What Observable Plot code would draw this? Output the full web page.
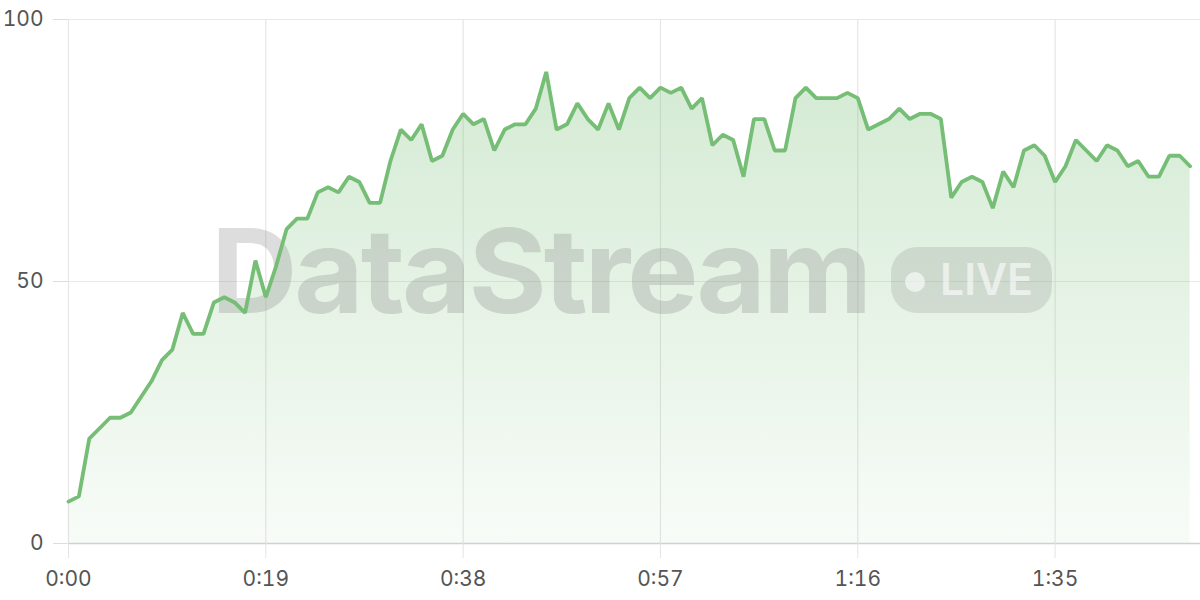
<!DOCTYPE html>
<html>
<head>
<meta charset="utf-8">
<script src="https://cdn.jsdelivr.net/npm/d3@7"></script>
<script src="https://cdn.jsdelivr.net/npm/@observablehq/plot@0.6"></script>
<style>
  html, body { margin: 0; padding: 0; background: #fff; }
  #chart { width: 1200px; height: 600px; }
</style>
</head>
<body>
<div id="chart"></div>
<script>
const seconds = [0,1,2,3,4,5,6,7,8,9,10,11,12,13,14,15,16,17,18,19,20,21,22,23,24,25,26,27,28,29,30,31,32,33,34,35,36,37,38,39,40,41,42,43,44,45,46,47,48,49,50,51,52,53,54,55,56,57,58,59,60,61,62,63,64,65,66,67,68,69,70,71,72,73,74,75,76,77,78,79,80,81,82,83,84,85,86,87,88,89,90,91,92,93,94,95,96,97,98,99,100,101,102,103,104,105,106,107,108];
const values = [8,9,20,22,24,24,25,28,31,35,37,44,40,40,46,47,46,44,54,47,53,60,62,62,67,68,67,70,69,65,65,73,79,77,80,73,74,79,82,80,81,75,79,80,80,83,90,79,80,84,81,79,84,79,85,87,85,87,86,87,83,85,76,78,77,70,81,81,75,75,85,87,85,85,85,86,85,79,80,81,83,81,82,82,81,66,69,70,69,64,71,68,75,76,74,69,72,77,75,73,76,75,72,73,70,70,74,74,72];
const xTicks = [0,19,38,57,76,95];
const yTicks = [0,50,100];
const brandName = "DataStream";
const badgeLabel = "LIVE";

const data = seconds.map((s, i) => ({s, v: values[i]}));
const fmt = d => `${Math.floor(d / 60)}:${String(d % 60).padStart(2, "0")}`;

const lineColor = "#76bd76";

function watermark(index, scales, values, dimensions) {
  const {width, height, marginLeft, marginRight, marginTop, marginBottom} = dimensions;
  const cx = (marginLeft + width - marginRight) / 2 - 2;
  const cy = (marginTop + height - marginBottom) / 2;
  const g = d3.create("svg:g").attr("pointer-events", "none").attr("text-anchor", "start");
  g.append("text")
    .attr("x", cx - 421).attr("y", cy + 32)
    .attr("text-anchor", "start")
    .attr("font-family", "Inter, 'Open Sans', sans-serif")
    .attr("font-weight", 700)
    .attr("font-size", 117)
    .attr("letter-spacing", -3)
    .attr("textLength", 658)
    .attr("lengthAdjust", "spacingAndGlyphs")
    .attr("fill", "#8f8f8f").attr("fill-opacity", 0.3)
    .text(brandName);
  g.append("rect")
    .attr("x", cx + 259).attr("y", cy - 34)
    .attr("width", 161).attr("height", 66)
    .attr("rx", 26)
    .attr("fill", "#8f8f8f").attr("fill-opacity", 0.24);
  g.append("circle")
    .attr("cx", cx + 283).attr("cy", cy + 1).attr("r", 10)
    .attr("fill", "#fff").attr("fill-opacity", 0.6);
  g.append("text")
    .attr("x", cx + 308).attr("y", cy + 14)
    .attr("text-anchor", "start")
    .attr("font-family", "Inter, 'Open Sans', sans-serif")
    .attr("font-weight", 600)
    .attr("font-size", 44)
    .attr("textLength", 93)
    .attr("lengthAdjust", "spacingAndGlyphs")
    .attr("fill", "#fff").attr("fill-opacity", 0.6)
    .text(badgeLabel);
  return g.node();
}

const chart = Plot.plot({
  width: 1200,
  height: 600,
  marginTop: 19,
  marginBottom: 57,
  marginLeft: 68,
  marginRight: 0,
  style: {fontFamily: "Inter, 'Open Sans', sans-serif", fontSize: "21px", color: "#555", background: "#fff"},
  x: {domain: [0, 109], ticks: xTicks, tickFormat: fmt},
  y: {domain: [0, 100], ticks: yTicks},
  marks: [
    Plot.gridY(yTicks, {stroke: "#e9e9e9", strokeOpacity: 1, strokeWidth: 1.2}),
    Plot.gridX(xTicks, {stroke: "#e6e6e6", strokeOpacity: 1, strokeWidth: 1.2}),
    Plot.areaY(data, {x: "s", y: "v", fill: "url(#areaGrad)", curve: "linear"}),
    watermark,
    Plot.ruleY([0], {stroke: "#d0d0d0", strokeWidth: 1.6}),
    Plot.lineY(data, {x: "s", y: "v", stroke: lineColor, strokeWidth: 3.8, strokeLinejoin: "miter", curve: "linear"}),
    Plot.axisY(yTicks, {tickSize: 15, tickPadding: 10, stroke: "#dddddd", fill: "#555", fontSize: 21, label: null}),
    Plot.axisX(xTicks, {tickSize: 15, tickPadding: 13, stroke: "#e4e4e4", fill: "#555", fontSize: 21, label: null, tickFormat: fmt})
  ]
});

const defs = d3.select(chart).insert("defs", ":first-child");
const grad = defs.append("linearGradient")
  .attr("id", "areaGrad")
  .attr("gradientUnits", "userSpaceOnUse")
  .attr("x1", 0).attr("x2", 0).attr("y1", 19).attr("y2", 543);
grad.append("stop").attr("offset", "0%").attr("stop-color", "#6cb96c").attr("stop-opacity", 0.32);
grad.append("stop").attr("offset", "100%").attr("stop-color", "#6cb96c").attr("stop-opacity", 0.05);

document.getElementById("chart").appendChild(chart);
</script>
</body>
</html>
